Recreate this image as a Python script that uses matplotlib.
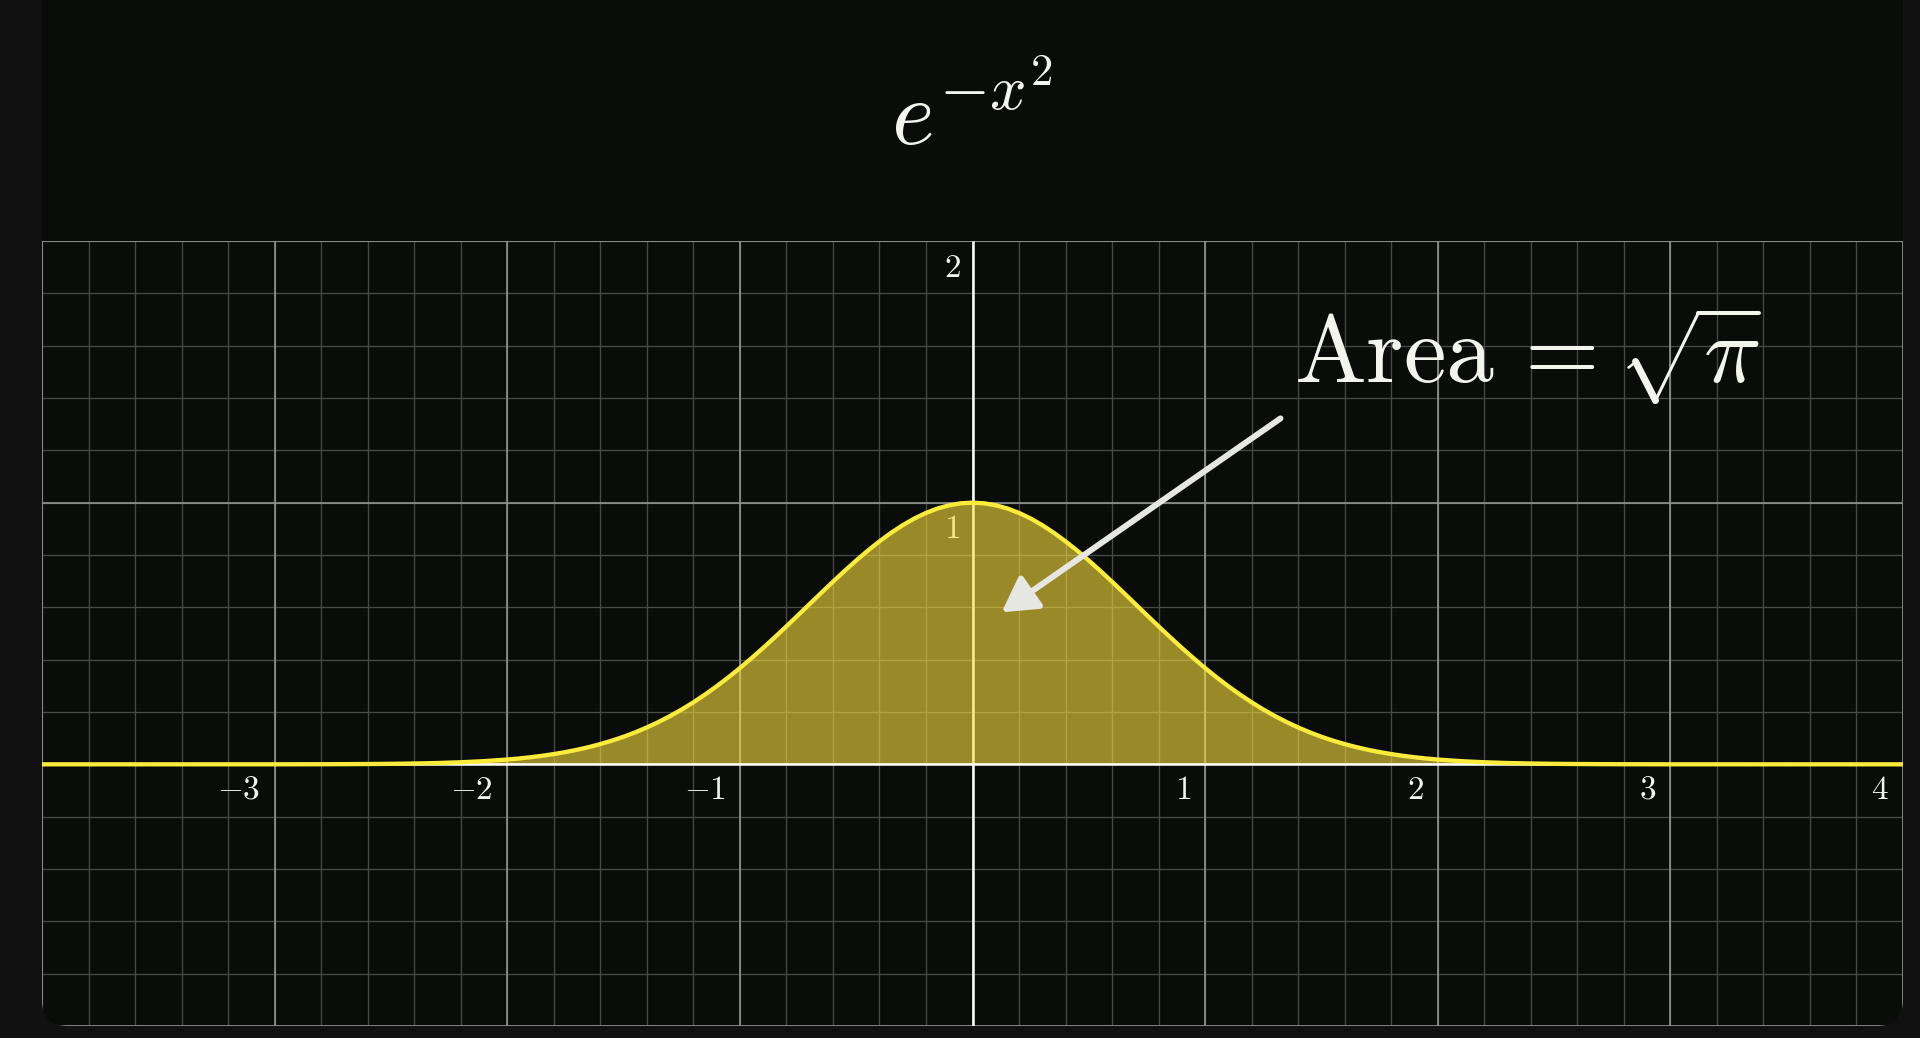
"""
 Gaussian bump e^{-x^2} on a dark grid, shaded area with an arrow to the
 label  Area = sqrt(pi).  Saves out.png (1920x1038).
"""
import numpy as np
import matplotlib
matplotlib.use("Agg")
import matplotlib.pyplot as plt
from matplotlib.patches import FancyBboxPatch
from matplotlib.lines import Line2D
from matplotlib.transforms import IdentityTransform, Affine2D

plt.rcParams["mathtext.fontset"] = "cm"

# curve values (right half, mirrored for the left)
x_half = [0.00, 0.05, 0.10, 0.15, 0.20, 0.25, 0.30, 0.35, 0.40, 0.45,
          0.50, 0.55, 0.60, 0.65, 0.70, 0.75, 0.80, 0.85, 0.90, 0.95,
          1.00, 1.05, 1.10, 1.15, 1.20, 1.25, 1.30, 1.35, 1.40, 1.45,
          1.50, 1.55, 1.60, 1.65, 1.70, 1.75, 1.80, 1.85, 1.90, 1.95,
          2.00, 2.10, 2.20, 2.30, 2.40, 2.50, 2.60, 2.70, 2.80, 3.00, 4.00]
y_half = [1.0000, 0.9975, 0.9900, 0.9778, 0.9608, 0.9394, 0.9139, 0.8847, 0.8521, 0.8167,
          0.7788, 0.7390, 0.6977, 0.6554, 0.6126, 0.5698, 0.5273, 0.4855, 0.4449, 0.4056,
          0.3679, 0.3320, 0.2982, 0.2665, 0.2369, 0.2096, 0.1845, 0.1616, 0.1409, 0.1221,
          0.1054, 0.0905, 0.0773, 0.0657, 0.0556, 0.0468, 0.0392, 0.0327, 0.0271, 0.0223,
          0.0183, 0.0122, 0.0079, 0.0050, 0.0032, 0.0019, 0.0012, 0.0007, 0.0004, 0.0001, 0.0000]

x_ticks = [-3, -2, -1, 1, 2, 3, 4]
y_ticks = [1, 2]
title = r"$e^{-x^2}$"
area_label = r"$\mathrm{Area}\,=$"

# label anchor and arrow tail / head in data units
label_at = (1.38, 1.463)
arrow_from = (1.324, 1.322)
arrow_to = (0.125, 0.581)

# colours
outer_bg = "#111111"
panel_bg = "#0a0c09"
minor_col = "#464946"
major_col = "#909090"
text_col = "#f4f4ef"
curve_col = "#fbec3c"
fill_col = (250 / 255, 222 / 255, 64 / 255)


def main():
    x = np.array([-v for v in x_half[::-1]] + x_half[1:])
    y = np.array(y_half[::-1] + y_half[1:])

    W, H, dpi = 1920, 1038, 100
    px = 72 / dpi  # points per pixel
    fig = plt.figure(figsize=(W / dpi, H / dpi), dpi=dpi, facecolor=outer_bg)

    # dark panel with rounded bottom corners (pixel coords, origin bottom-left)
    panel = FancyBboxPatch((42, H - 1026), 1903 - 42, 1200,
                           boxstyle="round,pad=0,rounding_size=26",
                           transform=IdentityTransform(),
                           facecolor=panel_bg, edgecolor="none", zorder=0)
    fig.add_artist(panel)

    ax = fig.add_axes([42 / W, (H - 1026) / H, (1903 - 42) / W, (1026 - 241) / H])
    ax.set_facecolor("none")
    ax.set_xlim(-4, 4)
    ax.set_ylim(-1, 2)
    ax.axis("off")

    # grid
    minor_x = np.arange(-4, 4.001, 0.2)
    minor_y = np.arange(-1, 2.001, 0.2)
    major_x = np.arange(-4, 5, 1)
    major_y = np.arange(-1, 3, 1)
    grid = [
        ax.vlines(minor_x, -1, 2, color=minor_col, lw=0.95, zorder=1),
        ax.hlines(minor_y, -4, 4, color=minor_col, lw=0.95, zorder=1),
        ax.vlines(major_x, -1, 2, color=major_col, lw=1.25, zorder=1.2),
        ax.hlines(major_y, -4, 4, color=major_col, lw=1.25, zorder=1.2),
        ax.vlines([0], -1, 2, color="white", lw=1.8, zorder=1.4),
    ]

    # y labels (the "1" sits under the fill, so it turns yellow)
    for v in y_ticks:
        ax.annotate(f"${v}$", xy=(0, v), xytext=(-12, -26), textcoords="offset pixels",
                    ha="right", va="center", color=text_col, fontsize=24, zorder=1.5)

    ax.fill_between(x, y, 0, color=fill_col, alpha=0.6, lw=0, zorder=2)
    grid.append(ax.hlines([0], -4, 4, color="white", lw=1.8, zorder=2.5))
    ax.plot(x, y, color=curve_col, lw=3.1, zorder=3, solid_capstyle="butt")

    for v in x_ticks:
        ax.annotate(f"${v}$", xy=(v, 0), xytext=(-14, -25), textcoords="offset pixels",
                    ha="right", va="center", color=text_col, fontsize=24, zorder=4)

    for g in grid:
        g.set_clip_path(panel)

    ax.annotate("", xy=arrow_to, xytext=arrow_from,
                arrowprops=dict(arrowstyle="-|>,head_length=1.05,head_width=0.6",
                                color="#e6e6e3", lw=4.3, mutation_scale=20,
                                shrinkA=0, shrinkB=0),
                zorder=5)

    # "Area =" then a hand-drawn display-size radical over pi
    ax.text(*label_at, area_label, ha="left", va="baseline",
            color=text_col, fontsize=69, zorder=5)
    ax.annotate(r"$\pi$", xy=label_at, xytext=(409, 0), textcoords="offset pixels",
                ha="left", va="baseline", color=text_col, fontsize=69, zorder=5)

    ox, oy = ax.transData.transform(label_at)
    at_label = Affine2D().translate(ox, oy)
    strokes = [  # (dx list, dy list, width px), pixel offsets from the label baseline
        ([335, 343], [14, 20], 2.6),
        ([342, 362], [20, -19], 7.0),
        ([361, 405], [-21, 69], 3.0),
        ([404, 465], [69, 69], 4.0),
    ]
    for sx, sy, w in strokes:
        fig.add_artist(Line2D(sx, sy, transform=at_label, color=text_col,
                              lw=w * px, solid_capstyle="round", zorder=6))

    fig.text(972 / W, (H - 145) / H, title, ha="center", va="baseline",
             color=text_col, fontsize=66)

    fig.savefig("out.png", dpi=dpi, facecolor=outer_bg)


if __name__ == "__main__":
    main()
